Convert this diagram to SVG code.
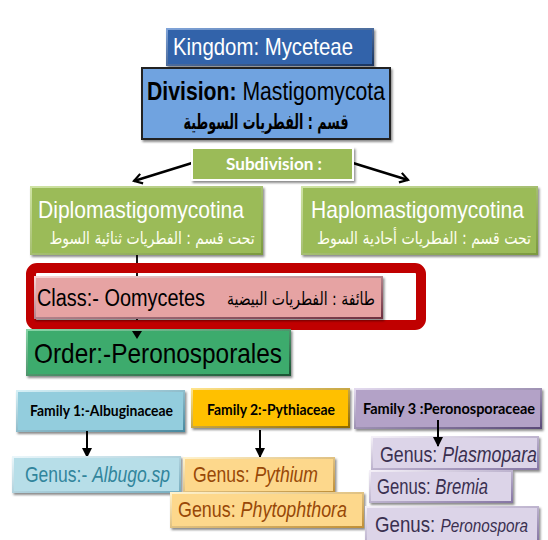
<svg xmlns="http://www.w3.org/2000/svg" width="548" height="540" viewBox="0 0 548 540">
<defs>
  <filter id="sh" x="-10%" y="-10%" width="130%" height="140%">
    <feDropShadow dx="1.5" dy="2" stdDeviation="1.2" flood-color="#000" flood-opacity="0.45"/>
  </filter>
  <linearGradient id="bvK" x1="0" y1="0" x2="1" y2="1"><stop offset="0" stop-color="#7FA3D8"/><stop offset="1" stop-color="#1A3560"/></linearGradient>
  <linearGradient id="bvG" x1="0" y1="0" x2="1" y2="1"><stop offset="0" stop-color="#CFE3A4"/><stop offset="1" stop-color="#7C9A3F"/></linearGradient>
  <linearGradient id="bvP" x1="0" y1="0" x2="1" y2="1"><stop offset="0" stop-color="#F7D6D6"/><stop offset="1" stop-color="#6E3040"/></linearGradient>
  <linearGradient id="bvO" x1="0" y1="0" x2="1" y2="1"><stop offset="0" stop-color="#86D4A6"/><stop offset="1" stop-color="#1A5634"/></linearGradient>
  <linearGradient id="bvF1" x1="0" y1="0" x2="1" y2="1"><stop offset="0" stop-color="#D6F0F6"/><stop offset="1" stop-color="#4A8AA0"/></linearGradient>
  <linearGradient id="bvF2" x1="0" y1="0" x2="1" y2="1"><stop offset="0" stop-color="#FFE38A"/><stop offset="1" stop-color="#8F6A00"/></linearGradient>
  <linearGradient id="bvF3" x1="0" y1="0" x2="1" y2="1"><stop offset="0" stop-color="#E2D9EE"/><stop offset="1" stop-color="#5A4A78"/></linearGradient>
  <linearGradient id="bvGB" x1="0" y1="0" x2="1" y2="1"><stop offset="0" stop-color="#EAF6FA"/><stop offset="1" stop-color="#78AEC0"/></linearGradient>
  <linearGradient id="bvGO" x1="0" y1="0" x2="1" y2="1"><stop offset="0" stop-color="#FFF2CC"/><stop offset="1" stop-color="#C09038"/></linearGradient>
  <linearGradient id="bvGP" x1="0" y1="0" x2="1" y2="1"><stop offset="0" stop-color="#F4F0F8"/><stop offset="1" stop-color="#8676A4"/></linearGradient>
  <marker id="chev" viewBox="0 0 12 12" refX="10" refY="6" markerWidth="12" markerHeight="12" markerUnits="userSpaceOnUse" orient="auto">
    <path d="M2,1 L10,6 L2,11" fill="none" stroke="#000" stroke-width="2.2"/>
  </marker>
  <marker id="tri" viewBox="0 0 10 10" refX="9" refY="5" markerWidth="10" markerHeight="10" markerUnits="userSpaceOnUse" orient="auto">
    <path d="M0,0 L10,5 L0,10 Z" fill="#000"/>
  </marker>
</defs>
<style>
  .box { filter: url(#sh); stroke-width: 2; }
  .en { font-family: "Liberation Sans", Arial, sans-serif; }
  .ar { font-family: "DejaVu Sans", "Noto Sans", sans-serif; }
  .cal { font-family: Lato, "Open Sans", sans-serif; font-weight: bold; }
  .it { font-style: italic; }
  .conn { stroke: #000; fill: none; }
</style>
<rect width="548" height="540" fill="#fff"/>

<g id="connectors">
  <line class="conn" x1="192" y1="163" x2="134" y2="181" stroke-width="2.5" marker-end="url(#chev)"/>
  <line class="conn" x1="353" y1="163" x2="408" y2="180" stroke-width="2.5" marker-end="url(#chev)"/>
  <line class="conn" x1="137" y1="254" x2="137" y2="330" stroke-width="1.8" marker-end="url(#tri)"/>
</g>

<g id="kingdom">
  <rect class="box" x="167" y="29" width="206" height="36" fill="#3063AA" stroke="url(#bvK)"/>
  <text class="en" x="173" y="55" font-size="24" fill="#fff" textLength="180" lengthAdjust="spacingAndGlyphs">Kingdom: Myceteae</text>
</g>

<g id="division">
  <rect class="box" x="142" y="68" width="248" height="71" fill="#6FA3E0" stroke="#222" stroke-width="2"/>
  <text class="en" x="147" y="100" font-size="26" fill="#000" textLength="238" lengthAdjust="spacingAndGlyphs"><tspan font-weight="bold">Division:</tspan> Mastigomycota</text>
  <text class="ar" x="266" y="129" font-size="21" font-weight="bold" fill="#000" text-anchor="middle" textLength="165" lengthAdjust="spacingAndGlyphs">قسم : الفطريات السوطية</text>
</g>

<g id="subdivision">
  <rect class="box" x="192" y="148" width="161" height="32" fill="#9BBB59" stroke="#fff" stroke-width="2"/>
  <text class="cal" x="274" y="170" font-size="17" fill="#fff" text-anchor="middle" textLength="96" lengthAdjust="spacingAndGlyphs">Subdivision :</text>
</g>

<g id="diplo">
  <rect class="box" x="31" y="187" width="231" height="67" fill="#9BBB59" stroke="url(#bvG)"/>
  <text class="en" x="38" y="218" font-size="24" fill="#fff" textLength="206" lengthAdjust="spacingAndGlyphs">Diplomastigomycotina</text>
  <text class="ar" x="152" y="244" font-size="17" fill="#FFFFF2" text-anchor="middle" textLength="205" lengthAdjust="spacingAndGlyphs">تحت قسم : الفطريات ثنائية السوط</text>
</g>

<g id="haplo">
  <rect class="box" x="302" y="187" width="235" height="67" fill="#9BBB59" stroke="url(#bvG)"/>
  <text class="en" x="311" y="218" font-size="24" fill="#fff" textLength="213" lengthAdjust="spacingAndGlyphs">Haplomastigomycotina</text>
  <text class="ar" x="424" y="244" font-size="17" fill="#FFFFF2" text-anchor="middle" textLength="214" lengthAdjust="spacingAndGlyphs">تحت قسم : الفطريات أحادية السوط</text>
</g>

<g id="highlight">
  <rect x="31" y="268" width="390" height="57" rx="6" fill="none" stroke="#C00000" stroke-width="10"/>
</g>

<g id="class">
  <rect class="box" x="35" y="277" width="347" height="41" fill="#E6A3A3" stroke="url(#bvP)"/>
  <text class="en" x="37" y="306" font-size="23" fill="#000" textLength="168" lengthAdjust="spacingAndGlyphs">Class:- Oomycetes</text>
  <text class="ar" x="301" y="305" font-size="18" fill="#000" text-anchor="middle" textLength="148" lengthAdjust="spacingAndGlyphs">طائفة : الفطريات البيضية</text>
</g>

<g id="order">
  <rect class="box" x="27" y="330" width="263" height="45" fill="#3DAB6D" stroke="url(#bvO)"/>
  <text class="en" x="34" y="363" font-size="28" fill="#000" textLength="248" lengthAdjust="spacingAndGlyphs">Order:-Peronosporales</text>
  <path d="M132,331 L142,331 L137,339 Z" fill="#000"/>
</g>

<g id="family1">
  <rect class="box" x="17" y="391" width="167" height="40" fill="#93CDDD" stroke="url(#bvF1)"/>
  <text class="cal" x="30" y="416" font-size="15" fill="#000" textLength="143" lengthAdjust="spacingAndGlyphs">Family 1:-Albuginaceae</text>
</g>

<g id="family2">
  <rect class="box" x="192" y="389" width="157" height="38" fill="#FFC000" stroke="url(#bvF2)"/>
  <text class="cal" x="207" y="415" font-size="15" fill="#000" textLength="128" lengthAdjust="spacingAndGlyphs">Family 2:-Pythiaceae</text>
</g>

<g id="family3">
  <rect class="box" x="355" y="389" width="186" height="39" fill="#B3A2C7" stroke="url(#bvF3)"/>
  <text class="cal" x="363" y="414" font-size="15" fill="#000" textLength="172" lengthAdjust="spacingAndGlyphs">Family 3 :Peronosporaceae</text>
</g>

<g id="family-connectors">
  <line class="conn" x1="87" y1="431" x2="87" y2="457" stroke-width="2" marker-end="url(#tri)"/>
  <line class="conn" x1="260" y1="430" x2="260" y2="457" stroke-width="2" marker-end="url(#tri)"/>
</g>

<g id="albugo">
  <rect class="box" x="13" y="457" width="167" height="35" fill="#B7DEE8" stroke="url(#bvGB)"/>
  <text class="en" x="25" y="482" font-size="22" fill="#31859C" textLength="145" lengthAdjust="spacingAndGlyphs">Genus:- <tspan class="it">Albugo.sp</tspan></text>
</g>

<g id="pythium">
  <rect class="box" x="184" y="458" width="150" height="34" fill="#FDD88C" stroke="url(#bvGO)"/>
  <text class="en" x="193" y="482" font-size="22" fill="#984807" textLength="125" lengthAdjust="spacingAndGlyphs">Genus: <tspan class="it">Pythium</tspan></text>
</g>

<g id="phytophthora">
  <rect class="box" x="171" y="493" width="192" height="34" fill="#FDD88C" stroke="url(#bvGO)"/>
  <text class="en" x="178" y="517" font-size="22" fill="#984807" textLength="169" lengthAdjust="spacingAndGlyphs">Genus: <tspan class="it">Phytophthora</tspan></text>
</g>

<g id="plasmopara">
  <rect class="box" x="372" y="437" width="166" height="32" fill="#DCD4E8" stroke="url(#bvGP)"/>
  <text class="en" x="380" y="462" font-size="22" fill="#3A3050" textLength="157" lengthAdjust="spacingAndGlyphs">Genus: <tspan class="it">Plasmopara</tspan></text>
</g>

<g id="bremia">
  <rect class="box" x="370" y="471" width="142" height="31" fill="#DCD4E8" stroke="url(#bvGP)"/>
  <text class="en" x="377" y="494" font-size="22" fill="#3A3050" textLength="111" lengthAdjust="spacingAndGlyphs">Genus: <tspan class="it">Bremia</tspan></text>
</g>

<g id="peronospora">
  <rect class="box" x="366" y="507" width="172" height="34" fill="#DCD4E8" stroke="url(#bvGP)"/>
  <text class="en" x="375" y="532" font-size="22" fill="#3A3050" textLength="153" lengthAdjust="spacingAndGlyphs">Genus: <tspan class="it" font-size="18">Peronospora</tspan></text>
</g>

<g id="family3-connector">
  <line class="conn" x1="438" y1="420" x2="438" y2="446" stroke-width="2" marker-end="url(#tri)"/>
</g>
</svg>
